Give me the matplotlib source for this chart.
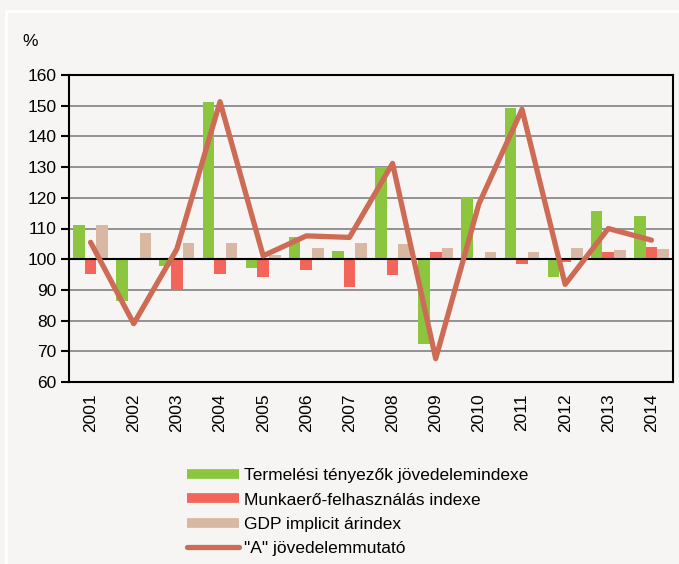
import matplotlib
matplotlib.use("Agg")
import matplotlib.pyplot as plt
import numpy as np
from matplotlib.lines import Line2D
from matplotlib.patches import Rectangle

plt.rcParams['font.family'] = ['Liberation Sans', 'DejaVu Sans']

years = ['2001', '2002', '2003', '2004', '2005', '2006', '2007',
         '2008', '2009', '2010', '2011', '2012', '2013', '2014']
termelesi = [111.3, 86.4, 97.8, 151.2, 97.2, 107.2, 102.6,
             130.1, 72.5, 120.2, 149.3, 94.2, 115.7, 114.1]
munkaero = [95.1, 100.5, 90.0, 95.1, 94.2, 96.6, 91.0,
            94.8, 102.5, 99.6, 98.5, 99.2, 102.5, 104.0]
gdp_ar = [111.2, 108.4, 105.3, 105.3, 101.5, 103.5, 105.3,
          104.9, 103.8, 102.2, 102.2, 103.5, 102.9, 103.2]
a_mutato = [105.5, 79.0, 103.3, 151.3, 101.1, 107.6, 107.1,
            131.2, 67.6, 118.0, 148.8, 91.8, 110.0, 106.2]

labels = ['Termelési tényezők jövedelemindexe', 'Munkaerő-felhasználás indexe',
          'GDP implicit árindex', '"A" jövedelemmutató']

c_green = '#8cc63f'
c_red = '#f3645a'
c_tan = '#d8b8a2'
c_line = '#cd6b55'
bg = '#f6f5f3'

fig = plt.figure(figsize=(6.79, 5.64), dpi=100, facecolor=bg)
ax = fig.add_axes([69/679, 1-382/564, (673-69)/679, (382-75)/564])
ax.set_facecolor(bg)

# panel border
fig.patches.append(Rectangle((6/679, -0.1), 1.2, 1 - 11/564 + 0.1, transform=fig.transFigure,
                             fill=False, edgecolor='white', linewidth=2, zorder=0))

x = np.arange(len(years))
w = 0.27
base = 100
ax.bar(x - w, np.array(termelesi) - base, w, bottom=base, color=c_green, zorder=3)
ax.bar(x, np.array(munkaero) - base, w, bottom=base, color=c_red, zorder=3)
ax.bar(x + w, np.array(gdp_ar) - base, w, bottom=base, color=c_tan, zorder=3)
ax.plot(x, a_mutato, color=c_line, lw=3.8, solid_capstyle='round',
        solid_joinstyle='round', zorder=5)

ax.axhline(100, color='black', lw=1.5, zorder=4)
ax.set_ylim(60, 160)
ax.set_xlim(-0.5, len(years) - 0.5)
ax.set_yticks(range(60, 161, 10))
ax.yaxis.grid(True, color='#8a8a8e', lw=1.3, zorder=0)
ax.set_axisbelow(True)
ax.set_xticks(x)
ax.set_xticklabels(years, rotation=90, fontsize=12.5)
ax.tick_params(axis='x', length=0, pad=8)
ax.tick_params(axis='y', length=6, width=1.5, labelsize=12.5, pad=3, direction='out')
for s in ax.spines.values():
    s.set_color('black')
    s.set_linewidth(1.5)

fig.text(22/679, 1-42/564, '%', fontsize=12.5, ha='left', va='center')

handles = [Line2D([], [], color=c_green, lw=7, solid_capstyle='butt'),
           Line2D([], [], color=c_red, lw=7, solid_capstyle='butt'),
           Line2D([], [], color=c_tan, lw=7, solid_capstyle='butt'),
           Line2D([], [], color=c_line, lw=3.8, solid_capstyle='round')]
fig.legend(handles, labels, loc='upper left', bbox_to_anchor=(187/679, 1-468/564),
           frameon=False, fontsize=12.5, handlelength=3.0, handletextpad=0.3,
           labelspacing=0.53, borderpad=0, borderaxespad=0)

fig.savefig('out.png', dpi=100, facecolor=bg)
